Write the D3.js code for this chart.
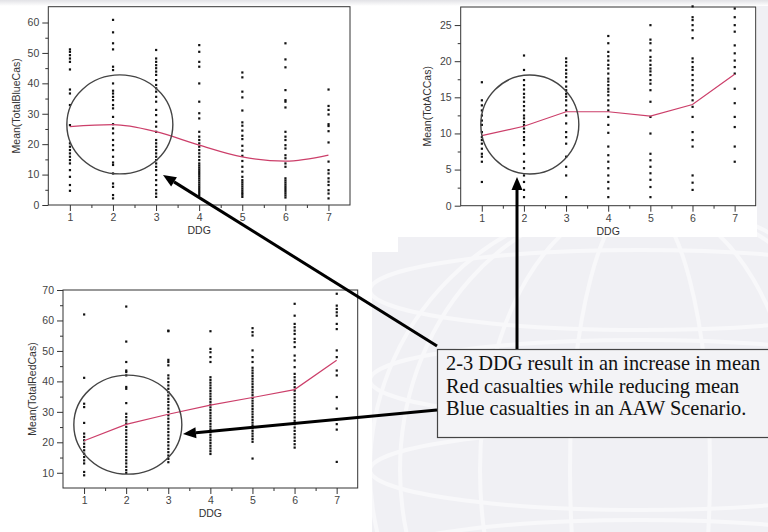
<!DOCTYPE html>
<html>
<head>
<meta charset="utf-8">
<script src="https://cdn.jsdelivr.net/npm/d3@7"></script>
<style>
  body { margin: 0; background: #f1f1f5; }
  svg { display: block; font-family: "Liberation Sans", Arial, sans-serif; }
</style>
</head>
<body>
<svg id="chart" width="768" height="532"></svg>
<script>
// number of DDG in the scenario
const ddg = [1, 2, 3, 4, 5, 6, 7];
const ddgMinor = [1.5, 2.5, 3.5, 4.5, 5.5, 6.5];

// mean casualties per DDG count
const blueMean = [25.8, 26.4, 24.1, 19.7, 15.8, 14.4, 16.4];
const acMean   = [9.7, 11.0, 13.0, 13.0, 12.4, 14.0, 18.2];
const redMean  = [20.5, 25.9, 29.2, 32.2, 34.7, 37.3, 46.9];

// individual runs, one list per DDG count
const blueRuns = [
  [51.2, 50.4, 49.3, 48.2, 47.1, 44.6, 38, 36.7, 32.9, 26.3, 20.3, 19.2, 18.1, 17, 15.9, 14.8, 13.7, 11.5, 9.3, 6.6, 4.7],
  [60.9, 56.8, 53.2, 51.2, 45.5, 44.4, 40, 37.6, 36.7, 35.6, 34.5, 32.9, 31.8, 29, 26.6, 25.2, 23.6, 21.4, 19.7, 18.1, 15.9, 14, 13.2, 10.4, 7.1, 6, 3.3, 2.2],
  [51, 48.2, 47.1, 46, 45, 43.9, 42.8, 41.1, 39.5, 38.4, 37.3, 35.6, 34, 31.3, 29.6, 27.4, 25.8, 24.1, 21.4, 20.3, 19.2, 18.1, 17, 15.9, 14.8, 13.7, 12.6, 11.5, 9.9, 8.2, 6.6, 4.9, 3.8, 2.7],
  [52.6, 50.4, 47.1, 45.5, 40, 34, 30.2, 28.5, 24.1, 22.5, 21.4, 20.3, 19.2, 18.1, 17, 15.9, 14.8, 13.7, 13, 12.3, 11.6, 10.9, 10.2, 9.5, 8.8, 8.1, 7.4, 6.7, 6, 5.3, 4.6, 4, 3.3],
  [43.6, 42, 37.3, 35.4, 31.1, 27.2, 26.1, 24.5, 22.8, 21.7, 19.5, 17.9, 16.2, 14.5, 12.6, 11, 9.3, 8.2, 7.5, 6.8, 6.1, 5.4, 4.7, 4, 3.4, 2.7],
  [53.2, 47.9, 45.3, 37.8, 34.5, 34, 32.1, 24.1, 22.5, 21.4, 19.7, 18.6, 16.4, 15.4, 13.7, 12.6, 8.8, 8.1, 7.4, 6.7, 6, 5.3, 4.6, 3.9, 3.2, 2.5],
  [38, 32.6, 31.3, 29.8, 26.6, 26, 24.3, 20.6, 14.3, 11.5, 10.4, 8.8, 7.7, 6.6, 4.9, 3.8, 2.2]
];
const acRuns = [
  [17.1, 14.6, 13.9, 13.2, 12.5, 11.8, 11.2, 10.2, 9.5, 9.1, 8.6, 7.9, 7.2, 6.8, 6.1, 3.3],
  [20.8, 18.8, 17.4, 16.7, 16.1, 15.5, 15, 14.4, 13.8, 13.2, 12.5, 12.1, 11.6, 11.2, 10.7, 10.2, 9.5, 9.1, 8.4, 7.2, 6.1, 5.2, 4.2, 3.3, 2.2, 1.2],
  [20.4, 19.9, 19.4, 18.8, 18.3, 17.8, 17.2, 16.5, 16, 15.5, 15.1, 14.6, 13.9, 13.2, 12.5, 11.4, 10.2, 9.5, 8.6, 6.8, 5.4, 4.2, 1.2],
  [23.5, 22.5, 21.3, 20.7, 20.1, 19.5, 19, 18.3, 17.6, 17.2, 16.7, 16.2, 15.8, 15.3, 14.6, 13.9, 13.2, 12.3, 11.2, 10.1, 8.2, 7, 6.1, 5.2, 4.2, 3.3, 2.4, 1.2],
  [25, 23, 22.5, 21.5, 20.6, 20.1, 19.5, 19, 18.6, 18.1, 17.4, 16.9, 16, 14.4, 12.3, 10, 7.2, 6.3, 5.4, 4.5, 3.6, 2.6, 1.2],
  [27.6, 26.1, 25.7, 25, 24.3, 23.2, 20.4, 19.9, 19.2, 18.8, 18.1, 17.4, 16.7, 16, 15.3, 14.6, 13.7, 12.3, 10.2, 9.1, 8.2, 4.2, 3.2, 2.2],
  [27.3, 26.1, 25, 24.1, 22.2, 21.1, 20.1, 19.2, 18.3, 16.2, 14.2, 12.3, 10.9, 8.2, 6.1]
];
const redRuns = [
  [62, 41.2, 32.7, 31.6, 26.4, 22.9, 21.8, 20.7, 19.6, 18.5, 17.4, 16.3, 15.2, 14.1, 13.1, 10.3, 9.2],
  [64.6, 53.1, 46.4, 43.6, 43.1, 42, 38.2, 37.6, 32.9, 29.4, 28.3, 27.2, 26.2, 25.1, 24, 22.9, 21.8, 20.7, 19.6, 18.5, 17.4, 16.3, 15.2, 14.1, 13.1, 12, 10.9, 10],
  [56.7, 56.5, 47.1, 46.4, 45.3, 42, 41, 39.8, 38.7, 37.6, 36.5, 35.4, 34.3, 33.3, 32.2, 31.1, 30, 28.9, 27.8, 26.7, 25.6, 24.5, 23.4, 22.3, 21.2, 20.1, 19, 17.9, 16.8, 15.7, 14.6, 13.5],
  [56.5, 50.7, 49.6, 48, 46.4, 41.4, 40.5, 39.6, 38.7, 37.8, 36.9, 36, 35.1, 34.2, 33.3, 32.4, 31.5, 30.6, 29.7, 28.8, 27.9, 27, 26.1, 25.2, 24.3, 23.4, 22.5, 21.6, 20.7, 19.8, 18.9, 18, 17.1, 16.2],
  [57.5, 56.2, 55.1, 50.2, 48, 46.4, 44.5, 43.6, 42.7, 41.8, 40.9, 40, 39.1, 38.2, 37.3, 36.4, 35.5, 34.6, 33.7, 32.8, 31.9, 31, 30.1, 29.2, 28.3, 27.4, 26.5, 25.6, 24.7, 23.8, 22.9, 22, 21.1, 20.2, 14.7],
  [65.5, 61.6, 58.9, 57.8, 56.7, 55.6, 54, 52.9, 51.3, 48.5, 46.9, 44.7, 42.5, 41.4, 40.3, 39.2, 38.1, 37, 35.9, 34.8, 33.7, 32.6, 31.5, 30.4, 29.3, 28.2, 27.1, 26, 24.9, 23.8, 22.7, 21.6, 20.5, 19.4, 18.3],
  [68.8, 64.9, 63.8, 62.7, 61.6, 58.9, 57.2, 50.2, 48, 43.6, 42, 34.9, 31.1, 26, 24.2, 13.6]
];

// y tick values
const blueTicks = [0, 10, 20, 30, 40, 50, 60];
const blueMinor = [5, 15, 25, 35, 45, 55];
const acTicks = [0, 5, 10, 15, 20, 25];
const acMinor = [2.5, 7.5, 12.5, 17.5, 22.5];
const redTicks = [10, 20, 30, 40, 50, 60, 70];
const redMinor = [15, 25, 35, 45, 55, 65];

const note = [
  "2-3 DDG result in an increase in mean",
  "Red casualties while reducing mean",
  "Blue casualties in an AAW Scenario."
];

const svg = d3.select("#chart");
const lineColor = "#cc3f6a";

// slide background with a faint globe watermark
svg.append("rect").attr("width", 768).attr("height", 532).attr("fill", "#f0f0f4");
const globe = svg.append("g").attr("fill", "none").attr("stroke", "#f8f8fa").attr("stroke-width", 4);
globe.append("circle").attr("cx", 640).attr("cy", 470).attr("r", 270);
[70, 160, 240].forEach(rx => {
  globe.append("ellipse").attr("cx", 640).attr("cy", 470).attr("rx", rx).attr("ry", 270);
});
[-180, -90, 0, 90].forEach(dy => {
  globe.append("ellipse").attr("cx", 640).attr("cy", 470 + dy).attr("rx", 270).attr("ry", 40);
});

// white chart pictures pasted on the slide
svg.append("rect").attr("x", 0).attr("y", 0).attr("width", 398).attr("height", 252).attr("fill", "#fff");
svg.append("rect").attr("x", 398).attr("y", 0).attr("width", 359).attr("height", 237).attr("fill", "#fff");
svg.append("rect").attr("x", 0).attr("y", 252).attr("width", 372).attr("height", 280).attr("fill", "#fff");
const topBand = svg.append("defs").append("linearGradient").attr("id", "band")
  .attr("x1", 0).attr("y1", 0).attr("x2", 0).attr("y2", 1);
topBand.append("stop").attr("offset", 0).attr("stop-color", "#e2e2e6");
topBand.append("stop").attr("offset", 1).attr("stop-color", "#ffffff");
svg.append("rect").attr("width", 768).attr("height", 6).attr("fill", "url(#band)");

function drawPanel(p) {
  const g = svg.append("g");
  const x = d3.scaleLinear().domain([0.5, 7.5]).range([p.box.x0, p.box.x1]);
  const y = d3.scaleLinear().domain(p.yDomain).range([p.box.y1, p.box.y0]);

  g.append("rect")
    .attr("x", p.box.x0).attr("y", p.box.y0)
    .attr("width", p.box.x1 - p.box.x0).attr("height", p.box.y1 - p.box.y0)
    .attr("fill", "#fff").attr("stroke", "#333").attr("stroke-width", 1);

  function styleAxis(sel) {
    sel.select(".domain").remove();
    sel.selectAll("line").attr("stroke", "#333");
    sel.selectAll("text").attr("fill", "#444").attr("font-size", 10.5)
      .attr("font-family", "Liberation Sans, Arial, sans-serif");
  }

  g.append("g").attr("transform", `translate(0,${p.box.y1})`)
    .call(d3.axisBottom(x).tickValues(ddg).tickSize(6).tickPadding(3).tickFormat(d3.format("d")))
    .call(styleAxis);
  g.append("g").attr("transform", `translate(0,${p.box.y1})`)
    .call(d3.axisBottom(x).tickValues(ddgMinor).tickSize(3).tickFormat(""))
    .call(styleAxis);
  g.append("g").attr("transform", `translate(${p.box.x0},0)`)
    .call(d3.axisLeft(y).tickValues(p.yTicks).tickSize(6).tickPadding(3))
    .call(styleAxis);
  g.append("g").attr("transform", `translate(${p.box.x0},0)`)
    .call(d3.axisLeft(y).tickValues(p.yMinor).tickSize(3).tickFormat(""))
    .call(styleAxis);

  const pts = p.runs.flatMap((col, i) => col.map(v => ({ d: ddg[i], v: v })));
  g.append("g").selectAll("rect")
    .data(pts)
    .join("rect")
    .attr("x", d => x(d.d) - 1)
    .attr("y", d => y(d.v) - 1)
    .attr("width", 2.2)
    .attr("height", 2.2)
    .attr("fill", "#111");

  const line = d3.line()
    .x((d, i) => x(ddg[i]))
    .y(d => y(d))
    .curve(p.curve);
  g.append("path")
    .datum(p.mean)
    .attr("d", line)
    .attr("fill", "none")
    .attr("stroke", lineColor)
    .attr("stroke-width", 1.2);

  g.append("text")
    .attr("x", (p.box.x0 + p.box.x1) / 2).attr("y", p.box.y1 + 29)
    .attr("text-anchor", "middle").attr("font-size", 10.5).attr("fill", "#333")
    .text("DDG");
  g.append("text")
    .attr("transform", `translate(${p.ylabelX},${(p.box.y0 + p.box.y1) / 2}) rotate(-90)`)
    .attr("text-anchor", "middle").attr("dy", "0.35em").attr("font-size", 10.5).attr("fill", "#333")
    .text(p.label);

  // annotation ring
  g.append("ellipse")
    .attr("cx", x(p.ring[0])).attr("cy", y(p.ring[1]))
    .attr("rx", p.ring[2]).attr("ry", 49.5)
    .attr("fill", "none").attr("stroke", "#444").attr("stroke-width", 1.4);
}

drawPanel({
  runs: blueRuns, mean: blueMean, label: "Mean(TotalBlueCas)",
  yDomain: [0, 65.2], yTicks: blueTicks, yMinor: blueMinor,
  box: { x0: 48.3, x1: 350, y0: 6.7, y1: 205 }, ylabelX: 16,
  curve: d3.curveMonotoneX, ring: [2.16, 26.5, 53]
});
drawPanel({
  runs: acRuns, mean: acMean, label: "Mean(TotACCas)",
  yDomain: [0, 27.5], yTicks: acTicks, yMinor: acMinor,
  box: { x0: 460.7, x1: 755.7, y0: 7, y1: 205.7 }, ylabelX: 427,
  curve: d3.curveLinear, ring: [2.14, 11.23, 49]
});
drawPanel({
  runs: redRuns, mean: redMean, label: "Mean(TotalRedCas)",
  yDomain: [5, 70], yTicks: redTicks, yMinor: redMinor,
  box: { x0: 63, x1: 357.7, y0: 290, y1: 488 }, ylabelX: 32,
  curve: d3.curveLinear, ring: [2.04, 25.8, 54]
});

// text box
svg.append("rect")
  .attr("x", 437.5).attr("y", 349.5).attr("width", 340).attr("height", 88)
  .attr("fill", "#f3f3f6").attr("stroke", "#444").attr("stroke-width", 1.2);
svg.append("g").selectAll("text")
  .data(note)
  .join("text")
  .attr("x", 446)
  .attr("y", (d, i) => 370 + i * 22.5)
  .attr("font-family", "Liberation Serif, 'Times New Roman', serif")
  .attr("font-size", 20.4)
  .attr("fill", "#111")
  .text(d => d);

// arrows from the note to the rings
const arrows = [
  [[437, 346], [163, 175]],
  [[517, 349], [517, 177]],
  [[437, 410], [183, 434]]
];
arrows.forEach(([a, b]) => {
  const dx = b[0] - a[0], dy = b[1] - a[1];
  const len = Math.hypot(dx, dy), ux = dx / len, uy = dy / len;
  const head = 13, half = 5.5;
  const bx = b[0] - ux * head, by = b[1] - uy * head;
  svg.append("line")
    .attr("x1", a[0]).attr("y1", a[1]).attr("x2", bx).attr("y2", by)
    .attr("stroke", "#000").attr("stroke-width", 3);
  svg.append("path")
    .attr("d", `M${b[0]},${b[1]}L${bx - uy * half},${by + ux * half}L${bx + uy * half},${by - ux * half}Z`)
    .attr("fill", "#000");
});
</script>
</body>
</html>
